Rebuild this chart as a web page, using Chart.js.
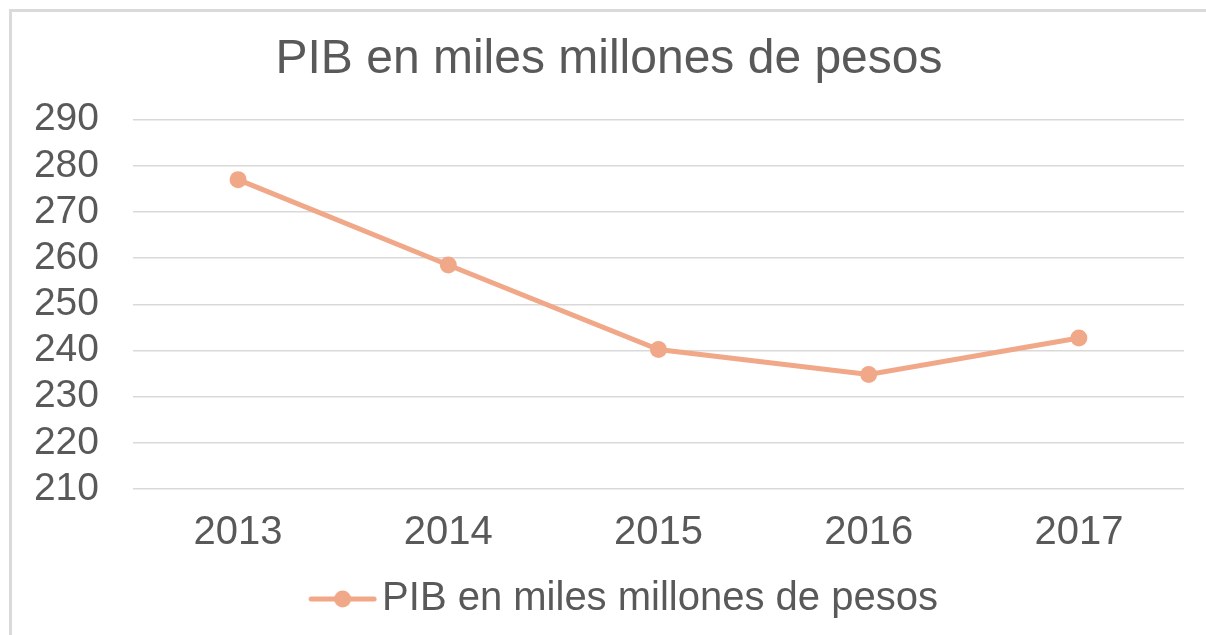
<!DOCTYPE html>
<html>
<head>
<meta charset="utf-8">
<script src="https://cdn.jsdelivr.net/npm/chart.js@4"></script>
<style>
  html, body { margin: 0; padding: 0; background: #fff; }
  #wrap { position: relative; width: 1206px; height: 635px; overflow: hidden; }
  #frame { position: absolute; left: 9px; top: 9px; right: -10px; bottom: -10px;
           border-top: 3px solid #dadada; border-left: 3px solid #dadada; }
  canvas { position: absolute; left: 0; top: 0; }
</style>
</head>
<body>
<div id="wrap">
  <div id="frame"></div>
  <canvas id="chart" width="1206" height="635"></canvas>
</div>
<script>
// PIB en miles millones de pesos, 2013-2017
const years = ['2013', '2014', '2015', '2016', '2017'];
const pib = [277, 258.5, 240.2, 234.8, 242.7];
const seriesName = 'PIB en miles millones de pesos';
const yTicks = [210, 220, 230, 240, 250, 260, 270, 280, 290];

const lineColor = '#F1A889';
const textColor = '#595959';
const fontFamily = '"Liberation Sans", Arial, sans-serif';

// legend marker: short line with a dot, drawn in the right part of the image
function legendMarker() {
    const c = document.createElement('canvas');
    c.width = 114;
    c.height = 20;
    const g = c.getContext('2d');
    g.strokeStyle = lineColor;
    g.lineWidth = 5;
    g.lineCap = 'round';
    g.beginPath();
    g.moveTo(47, 10);
    g.lineTo(110, 10);
    g.stroke();
    g.fillStyle = lineColor;
    g.beginPath();
    g.arc(78.5, 10, 8.5, 0, Math.PI * 2);
    g.fill();
    return c;
}

const ctx = document.getElementById('chart').getContext('2d');
const chart = new Chart(ctx, {
    type: 'line',
    data: {
        labels: years,
        datasets: [{
            label: seriesName,
            data: pib,
            borderColor: lineColor,
            backgroundColor: lineColor,
            borderWidth: 5,
            pointRadius: 8.5,
            pointHoverRadius: 8.5,
            pointBackgroundColor: lineColor,
            pointBorderWidth: 0,
            tension: 0,
        }],
    },
    options: {
        responsive: false,
        animation: false,
        devicePixelRatio: 1,
        layout: {
            padding: { left: 34, right: 22, top: 0, bottom: 6 },
        },
        scales: {
            x: {
                offset: true,
                grid: { display: false },
                border: { display: false },
                ticks: {
                    color: textColor,
                    padding: 12,
                    font: { family: fontFamily, size: 40 },
                },
            },
            y: {
                min: yTicks[0],
                max: yTicks[yTicks.length - 1],
                afterBuildTicks: (axis) => {
                    axis.ticks = yTicks.map(v => ({ value: v }));
                },
                afterFit: (axis) => { axis.width = 99; },
                grid: { color: '#d9d9d9', lineWidth: 1.5, drawTicks: false },
                border: { display: false },
                ticks: {
                    autoSkip: false,
                    color: textColor,
                    padding: 34,
                    font: { family: fontFamily, size: 39 },
                },
            },
        },
        plugins: {
            title: {
                display: true,
                text: seriesName,
                color: textColor,
                font: { family: fontFamily, size: 48, weight: 'normal' },
                padding: { top: 31, bottom: 31 },
            },
            legend: {
                position: 'bottom',
                labels: {
                    color: textColor,
                    font: { family: fontFamily, size: 40 },
                    usePointStyle: true,
                    pointStyle: legendMarker(),
                    pointStyleWidth: 82,
                    boxHeight: 20,
                    padding: 10,
                },
            },
            tooltip: { enabled: false },
        },
    },
});
</script>
</body>
</html>
